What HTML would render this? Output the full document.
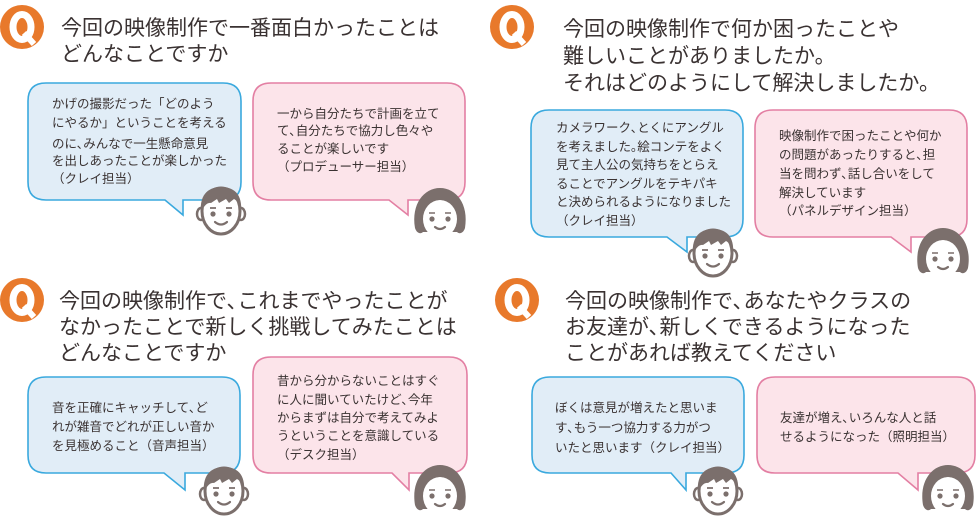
<!DOCTYPE html>
<html><head><meta charset="utf-8"><style>
html,body{margin:0;padding:0;background:#fff;}
svg{display:block;font-family:"Liberation Sans","Noto Sans CJK JP",sans-serif;}
.t{font-size:21px;fill:#3a3232;}
.b{font-size:12.5px;fill:#3a3232;}
.bl{fill:#e1edf7;stroke:#3aa9de;stroke-width:1.6;}
.pk{fill:#fce4ea;stroke:#e37fa3;stroke-width:1.6;}
</style></head><body>
<svg width="976" height="517" viewBox="0 0 976 517" xmlns="http://www.w3.org/2000/svg">
<defs>
<g id="q"><circle r="22" fill="#e8792b"/><ellipse rx="9" ry="12.5" fill="none" stroke="#fff" stroke-width="7"/><path d="M2 6 L12 17" stroke="#fff" stroke-width="6"/></g>
<g id="boy">
<ellipse cx="-20" cy="3" rx="4" ry="6" fill="#fff" stroke="#7b6f6c" stroke-width="2.5"/>
<ellipse cx="20" cy="3" rx="4" ry="6" fill="#fff" stroke="#7b6f6c" stroke-width="2.5"/>
<ellipse cx="0" cy="0" rx="19" ry="23" fill="#fff" stroke="#7b6f6c" stroke-width="3"/>
<path d="M-20 2 C-22 -19 -10 -24 0 -24 C12 -24 22 -18 20 2 C18 -6 17 -10 13 -12 L8 -8 L5 -12 L-2 -8 L-4 -12 L-10 -8 C-14 -9 -18 -4 -20 2 Z" fill="#7b6f6c"/>
<path d="M-11 -3 L-5 -3 M5 -3 L11 -3" stroke="#7b6f6c" stroke-width="1.8"/>
<circle cx="-8" cy="3" r="2.6" fill="#7b6f6c"/><circle cx="8" cy="3" r="2.6" fill="#7b6f6c"/>
<path d="M-6 11 Q0 16 6 11" fill="none" stroke="#7b6f6c" stroke-width="2.2" stroke-linecap="round"/>
</g>
<g id="girl">
<path d="M-25 14 C-29 -10 -16 -26 0 -26 C16 -26 29 -10 25 14 C23 20 19 20 17 18 L-17 18 C-19 20 -23 20 -25 14 Z" fill="#7b6f6c"/>
<ellipse cx="0" cy="5" rx="17" ry="19" fill="#fff"/>
<path d="M-17 0 C-15 -10 -8 -14 0 -14 C8 -14 15 -10 17 0 L17 -14 L-17 -14 Z" fill="#7b6f6c"/>
<path d="M-11 -1 L-5 -1 M5 -1 L11 -1" stroke="#7b6f6c" stroke-width="1.6"/>
<circle cx="-8" cy="5" r="2.6" fill="#7b6f6c"/><circle cx="8" cy="5" r="2.6" fill="#7b6f6c"/>
<path d="M-5 13 Q0 17 5 13" fill="none" stroke="#7b6f6c" stroke-width="2.2" stroke-linecap="round"/>
</g>
</defs>

<!-- Panel 1 -->
<use href="#q" x="22" y="27"/>
<text class="t" x="61" y="35">今回の映像制作で一番面白かったことは</text>
<text class="t" x="61" y="61">どんなことですか</text>
<path class="bl" d="M46 83 H223 Q241 83 241 101 V182 Q241 200 223 200 H183 V215 L165 200 H46 Q28 200 28 182 V101 Q28 83 46 83 Z"/>
<text class="b" x="52" y="108">かげの撮影だった「どのよう</text>
<text class="b" x="52" y="127">にやるか」ということを考える</text>
<text class="b" x="52" y="148">のに､みんなで一生懸命意見</text>
<text class="b" x="52" y="165">を出しあったことが楽しかった</text>
<text class="b" x="52" y="183">（クレイ担当）</text>
<path class="pk" d="M271 83 H447 Q465 83 465 101 V182 Q465 200 447 200 H408 V215 L389 200 H271 Q253 200 253 182 V101 Q253 83 271 83 Z"/>
<text class="b" x="277" y="118">一から自分たちで計画を立て</text>
<text class="b" x="277" y="135">て､自分たちで協力し色々や</text>
<text class="b" x="277" y="153">ることが楽しいです</text>
<text class="b" x="277" y="171">（プロデューサー担当）</text>
<use href="#boy" x="221" y="211"/>
<use href="#girl" x="440" y="214"/>

<!-- Panel 2 -->
<use href="#q" x="512" y="27"/>
<text class="t" x="563" y="36">今回の映像制作で何か困ったことや</text>
<text class="t" x="563" y="63">難しいことがありましたか。</text>
<text class="t" x="563" y="90">それはどのようにして解決しましたか。</text>
<path class="bl" d="M549 110 H725 Q743 110 743 128 V219 Q743 237 725 237 H687 V252 L667 237 H549 Q531 237 531 219 V128 Q531 110 549 110 Z"/>
<text class="b" x="556" y="132">カメラワーク､とくにアングル</text>
<text class="b" x="556" y="151">を考えました｡絵コンテをよく</text>
<text class="b" x="556" y="169">見て主人公の気持ちをとらえ</text>
<text class="b" x="556" y="188">ることでアングルをテキパキ</text>
<text class="b" x="556" y="206">と決められるようになりました</text>
<text class="b" x="556" y="225">（クレイ担当）</text>
<path class="pk" d="M773 110 H949 Q967 110 967 128 V219 Q967 237 949 237 H911 V252 L891 237 H773 Q755 237 755 219 V128 Q755 110 773 110 Z"/>
<text class="b" x="779" y="140">映像制作で困ったことや何か</text>
<text class="b" x="779" y="159">の問題があったりすると､担</text>
<text class="b" x="779" y="178">当を問わず､話し合いをして</text>
<text class="b" x="779" y="197">解決しています</text>
<text class="b" x="779" y="215">（パネルデザイン担当）</text>
<use href="#boy" x="713" y="253"/>
<use href="#girl" x="943" y="254"/>

<!-- Panel 3 -->
<use href="#q" x="22" y="300"/>
<text class="t" x="59" y="308">今回の映像制作で､これまでやったことが</text>
<text class="t" x="59" y="334">なかったことで新しく挑戦してみたことは</text>
<text class="t" x="59" y="360">どんなことですか</text>
<path class="bl" d="M46 377 H222 Q240 377 240 395 V455 Q240 473 222 473 H185 V490 L164 473 H46 Q28 473 28 455 V395 Q28 377 46 377 Z"/>
<text class="b" x="52" y="412">音を正確にキャッチして､ど</text>
<text class="b" x="52" y="431">れが雑音でどれが正しい音か</text>
<text class="b" x="52" y="450">を見極めること（音声担当）</text>
<path class="pk" d="M271 357 H449 Q467 357 467 375 V455 Q467 473 449 473 H409 V490 L392 473 H271 Q253 473 253 455 V375 Q253 357 271 357 Z"/>
<text class="b" x="277" y="385">昔から分からないことはすぐ</text>
<text class="b" x="277" y="404">に人に聞いていたけど､今年</text>
<text class="b" x="277" y="422">からまずは自分で考えてみよ</text>
<text class="b" x="277" y="440">うということを意識している</text>
<text class="b" x="277" y="459">（デスク担当）</text>
<use href="#boy" x="224" y="491"/>
<use href="#girl" x="440" y="491"/>

<!-- Panel 4 -->
<use href="#q" x="517" y="300"/>
<text class="t" x="565" y="308">今回の映像制作で､あなたやクラスの</text>
<text class="t" x="565" y="334">お友達が､新しくできるようになった</text>
<text class="t" x="565" y="360">ことがあれば教えてください</text>
<path class="bl" d="M550 377 H726 Q744 377 744 395 V455 Q744 473 726 473 H686 V490 L671 473 H550 Q532 473 532 455 V395 Q532 377 550 377 Z"/>
<text class="b" x="555" y="412">ぼくは意見が増えたと思いま</text>
<text class="b" x="555" y="432">す､もう一つ協力する力がつ</text>
<text class="b" x="555" y="452">いたと思います（クレイ担当）</text>
<path class="pk" d="M775 377 H957 Q975 377 975 395 V455 Q975 473 957 473 H918 V490 L898 473 H775 Q757 473 757 455 V395 Q757 377 775 377 Z"/>
<text class="b" x="780" y="422">友達が増え､いろんな人と話</text>
<text class="b" x="780" y="441">せるようになった（照明担当）</text>
<use href="#boy" x="718" y="491"/>
<use href="#girl" x="948" y="491"/>
</svg>
</body></html>
